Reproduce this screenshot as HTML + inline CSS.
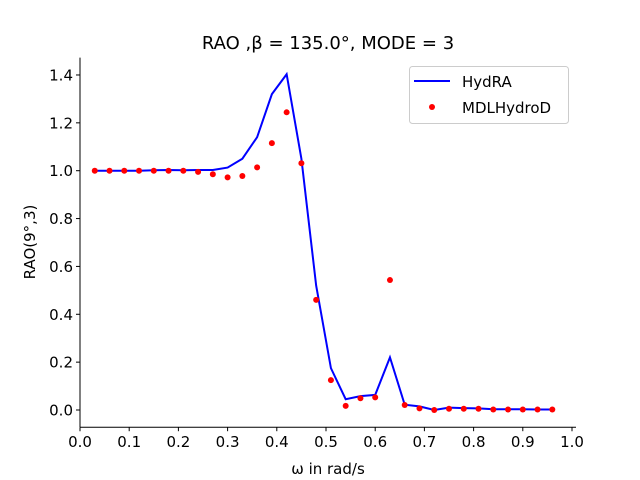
<!DOCTYPE html>
<html><head><meta charset="utf-8"><style>
body{margin:0;background:#fff;}
svg{display:block;font-family:"DejaVu Sans","Liberation Sans",sans-serif;}
</style></head><body>
<svg id="chart" width="640" height="480">
<rect width="640" height="480" fill="#fff"/>
<text x="328" y="49" font-size="18" text-anchor="middle">RAO ,β = 135.0°, MODE = 3</text>
<g id="plot"></g>
<text x="328" y="474" font-size="15" text-anchor="middle">ω in rad/s</text>
<text transform="translate(35,242) rotate(-90)" font-size="15" text-anchor="middle">RAO(9°,3)</text>
<g>
<rect x="409.5" y="66.5" width="159" height="57" rx="3" fill="#fff" stroke="#ccc"/>
<line x1="414" y1="81" x2="450" y2="81" stroke="#0000ff" stroke-width="2"/>
<text x="462" y="87" font-size="15">HydRA</text>
<circle cx="432" cy="107" r="3" fill="#ff0000"/>
<text x="462" y="113" font-size="15">MDLHydroD</text>
</g>
</svg>
<script>
const omegas=[0.03,0.06,0.09,0.12,0.15,0.18,0.21,0.24,0.27,0.30,0.33,0.36,0.39,0.42,0.45,0.48,0.51,0.54,0.57,0.60,0.63,0.66,0.69,0.72,0.75,0.78,0.81,0.84,0.87,0.90,0.93,0.96];
const hydra=[1.0,1.0,1.0,1.0,1.002,1.003,1.002,1.003,1.003,1.013,1.05,1.14,1.32,1.403,1.05,0.52,0.175,0.045,0.058,0.063,0.22,0.022,0.015,0.0,0.01,0.008,0.007,0.003,0.003,0.003,0.002,0.002];
const mdl=[1.0,1.0,1.0,1.0,1.0,1.0,1.0,0.995,0.985,0.972,0.978,1.014,1.115,1.244,1.031,0.46,0.125,0.017,0.049,0.053,0.543,0.021,0.007,0.0,0.005,0.005,0.005,0.002,0.002,0.002,0.002,0.002];
const xTicks=[0.0,0.1,0.2,0.3,0.4,0.5,0.6,0.7,0.8,0.9,1.0];
const yTicks=[0.0,0.2,0.4,0.6,0.8,1.0,1.2,1.4];
const L=80,R=576,T=57.6,B=427.2;
const xs=v=>80+v*492;
const ys=v=>410-v*239.3;
const NS='http://www.w3.org/2000/svg';
const g=document.getElementById('plot');
function mk(t,a){const e=document.createElementNS(NS,t);for(const k in a)e.setAttribute(k,a[k]);g.appendChild(e);return e;}
let ax=mk('line',{x1:L,y1:T,x2:L,y2:B,stroke:'#000','stroke-width':1});


let bx=mk('line',{x1:L,y1:B,x2:R,y2:B,stroke:'#000','stroke-width':1});


xTicks.forEach(v=>{
 const x=xs(v);
 const t=mk('line',{x1:x,y1:B,x2:x,y2:B+4,stroke:'#000'});
 
 
 const l=mk('text',{x:x,y:B+20,'font-size':15,'text-anchor':'middle'});
 l.textContent=v.toFixed(1);
 
 
});
yTicks.forEach(v=>{
 const y=ys(v);
 const t=mk('line',{x1:L-4,y1:y,x2:L,y2:y,stroke:'#000'});
 
 
 const l=mk('text',{x:L-7,y:y+5.5,'font-size':15,'text-anchor':'end'});
 l.textContent=v.toFixed(1);
 
 
});
const p=mk('polyline',{points:omegas.map((w,i)=>xs(w)+','+ys(hydra[i])).join(' '),fill:'none',stroke:'#0000ff','stroke-width':2});


omegas.forEach((w,i)=>{
 const c=mk('circle',{cx:xs(w),cy:ys(mdl[i]),r:3,fill:'#ff0000'});
 
 
});
</script>
</body></html>
